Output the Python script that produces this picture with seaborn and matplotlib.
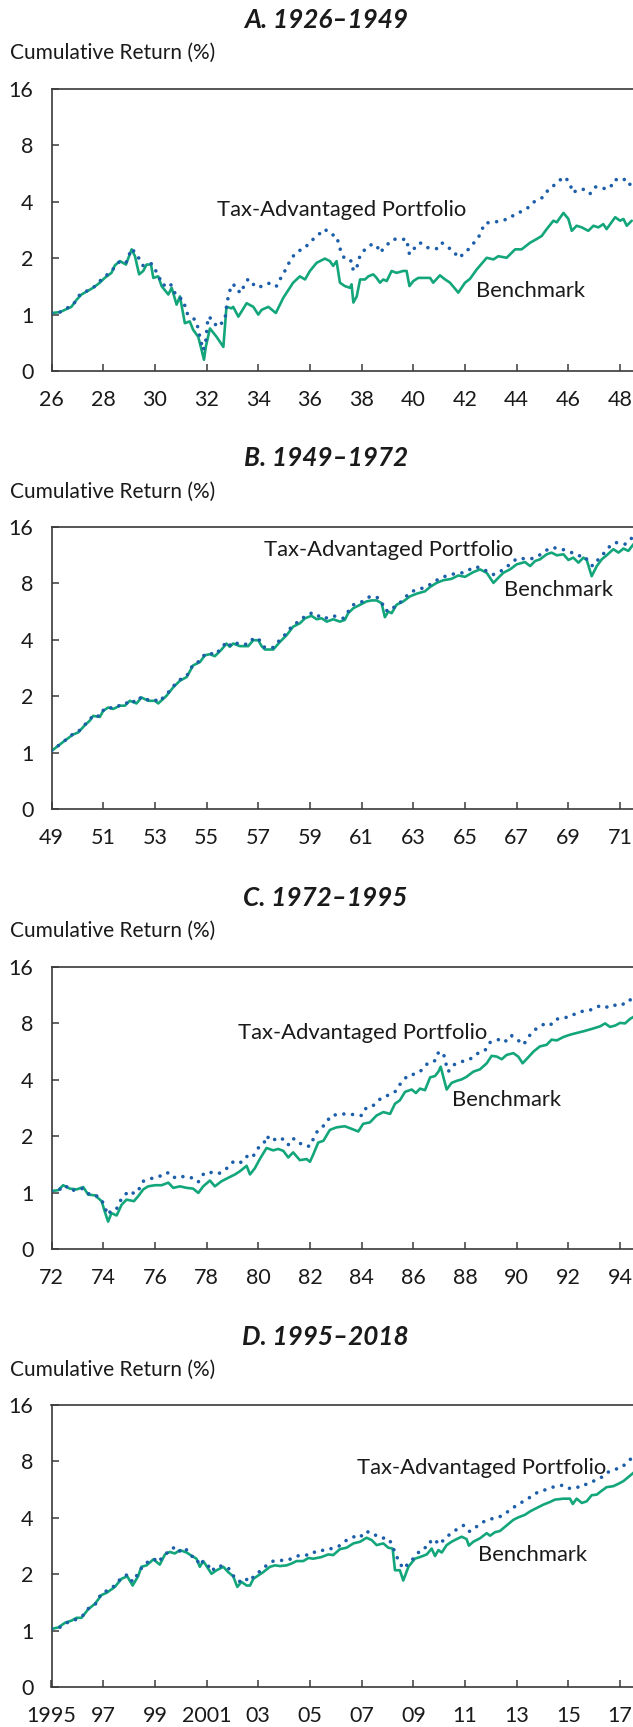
import matplotlib
matplotlib.use("Agg")
import matplotlib.pyplot as plt
from matplotlib.ticker import NullLocator
import seaborn as sns

# ---- data: growth of $1, years as decimal years ----
titles = ["A. 1926–1949", "B. 1949–1972", "C. 1972–1995", "D. 1995–2018"]
starts = [1926, 1949, 1972, 1995]

a_years_bm = [1926.00, 1926.32, 1926.77, 1926.97, 1927.16, 1927.61, 1927.87, 1928.06, 1928.32, 1928.45,
              1928.65, 1928.88, 1929.10, 1929.23, 1929.39, 1929.55, 1929.68, 1929.85, 1929.94, 1930.13,
              1930.26, 1930.52, 1930.65, 1930.84, 1930.97, 1931.16, 1931.35, 1931.48, 1931.68, 1931.81,
              1931.90, 1931.97, 1932.13, 1932.39, 1932.52, 1932.65, 1932.77, 1932.97, 1933.03, 1933.23,
              1933.55, 1933.81, 1934.00, 1934.13, 1934.39, 1934.68, 1934.97, 1935.35, 1935.61, 1935.81,
              1936.00, 1936.26, 1936.58, 1936.77, 1936.90, 1937.03, 1937.16, 1937.35, 1937.55, 1937.61,
              1937.68, 1937.81, 1937.94, 1938.13, 1938.26, 1938.45, 1938.58, 1938.71, 1938.84, 1938.97,
              1939.16, 1939.35, 1939.61, 1939.74, 1939.85, 1940.00, 1940.19, 1940.65, 1940.77, 1941.03,
              1941.23, 1941.42, 1941.74, 1942.00, 1942.19, 1942.45, 1942.84, 1943.10, 1943.29, 1943.61,
              1943.94, 1944.19, 1944.52, 1944.77, 1944.97, 1945.16, 1945.42, 1945.55, 1945.81, 1946.00,
              1946.13, 1946.32, 1946.52, 1946.77, 1946.97, 1947.16, 1947.35, 1947.48, 1947.81, 1948.00,
              1948.13, 1948.26, 1948.45]
a_bm = [1.02, 1.03, 1.10, 1.20, 1.28, 1.39, 1.48, 1.57, 1.67, 1.83,
        1.93, 1.85, 2.23, 2.05, 1.64, 1.71, 1.85, 1.85, 1.57, 1.60,
        1.42, 1.28, 1.39, 1.13, 1.25, 0.90, 0.92, 0.83, 0.76, 0.645,
        0.574, 0.672, 0.844, 0.76, 0.715, 0.672, 1.10, 1.08, 1.10, 0.975,
        1.15, 1.10, 1.00, 1.06, 1.10, 1.02, 1.23, 1.48, 1.60, 1.54,
        1.71, 1.89, 1.99, 1.93, 1.82, 1.93, 1.48, 1.42, 1.39, 1.45,
        1.16, 1.25, 1.54, 1.54, 1.60, 1.64, 1.57, 1.48, 1.54, 1.51,
        1.71, 1.67, 1.71, 1.71, 1.42, 1.51, 1.57, 1.57, 1.48, 1.62,
        1.54, 1.48, 1.31, 1.48, 1.55, 1.74, 2.01, 1.97, 2.05, 2.01,
        2.23, 2.23, 2.42, 2.53, 2.63, 2.86, 3.17, 3.11, 3.49, 3.24,
        2.80, 2.98, 2.92, 2.80, 2.98, 2.92, 3.04, 2.86, 3.31, 3.17,
        3.24, 2.98, 3.17]
a_years_tap = [1926.00, 1926.32, 1926.84, 1927.10, 1927.61, 1927.87, 1928.32, 1928.65, 1928.88, 1929.10,
               1929.29, 1929.55, 1929.87, 1930.06, 1930.32, 1930.58, 1930.84, 1931.10, 1931.23, 1931.42,
               1931.61, 1931.74, 1931.87, 1931.97, 1932.06, 1932.26, 1932.39, 1932.58, 1932.71, 1932.77,
               1932.84, 1932.97, 1933.16, 1933.29, 1933.61, 1933.81, 1934.00, 1934.26, 1934.52, 1934.71,
               1934.84, 1935.03, 1935.29, 1935.55, 1935.74, 1936.13, 1936.58, 1936.77, 1937.03, 1937.10,
               1937.19, 1937.35, 1937.61, 1937.68, 1937.81, 1937.94, 1938.13, 1938.39, 1938.58, 1938.71,
               1938.97, 1939.23, 1939.48, 1939.74, 1939.85, 1940.00, 1940.26, 1940.52, 1940.90, 1941.10,
               1941.35, 1941.55, 1941.74, 1941.94, 1942.13, 1942.52, 1942.77, 1943.10, 1943.42, 1943.74,
               1943.94, 1944.19, 1944.39, 1944.65, 1945.03, 1945.23, 1945.48, 1945.74, 1945.87, 1946.06,
               1946.17, 1946.39, 1946.65, 1946.84, 1947.03, 1947.23, 1947.48, 1947.68, 1947.81, 1948.00,
               1948.19, 1948.32, 1948.49]
a_tap = [1.02, 1.03, 1.13, 1.28, 1.39, 1.51, 1.71, 1.93, 1.89, 2.25,
         2.10, 1.82, 1.87, 1.69, 1.43, 1.48, 1.25, 1.20, 1.02, 0.975,
         0.92, 0.76, 0.645, 0.73, 0.975, 0.936, 0.86, 0.90, 0.936, 1.10,
         1.25, 1.45, 1.42, 1.30, 1.55, 1.45, 1.39, 1.45, 1.48, 1.42,
         1.54, 1.71, 2.01, 2.19, 2.23, 2.53, 2.86, 2.69, 2.63, 2.42,
         2.19, 1.97, 1.93, 1.71, 1.78, 2.07, 2.23, 2.37, 2.35, 2.14,
         2.35, 2.53, 2.51, 2.53, 2.10, 2.23, 2.42, 2.28, 2.25, 2.42,
         2.28, 2.19, 2.01, 2.10, 2.23, 2.58, 3.08, 3.11, 3.17, 3.27,
         3.45, 3.55, 3.67, 3.98, 4.24, 4.66, 4.94, 5.32, 5.43, 5.00,
         4.47, 4.66, 4.66, 4.42, 4.80, 4.80, 4.66, 4.90, 5.28, 5.15,
         5.28, 4.94, 5.00]

b_years_bm = [1949.00, 1949.52, 1949.84, 1950.03, 1950.29, 1950.48, 1950.61, 1950.87, 1951.00, 1951.19,
              1951.39, 1951.65, 1951.84, 1952.03, 1952.29, 1952.48, 1952.74, 1953.00, 1953.13, 1953.45,
              1953.71, 1953.97, 1954.23, 1954.48, 1954.74, 1954.94, 1955.13, 1955.32, 1955.58, 1955.77,
              1955.90, 1956.03, 1956.29, 1956.61, 1956.81, 1957.00, 1957.13, 1957.26, 1957.58, 1957.84,
              1958.10, 1958.35, 1958.61, 1958.81, 1959.06, 1959.26, 1959.45, 1959.65, 1959.90, 1960.16,
              1960.35, 1960.48, 1960.68, 1960.94, 1961.19, 1961.39, 1961.58, 1961.77, 1961.90, 1962.03,
              1962.16, 1962.35, 1962.61, 1962.87, 1963.13, 1963.45, 1963.65, 1963.90, 1964.16, 1964.48,
              1964.74, 1965.00, 1965.32, 1965.58, 1965.84, 1966.10, 1966.29, 1966.48, 1966.74, 1967.00,
              1967.32, 1967.52, 1967.71, 1967.90, 1968.16, 1968.35, 1968.55, 1968.81, 1969.00, 1969.19,
              1969.39, 1969.58, 1969.71, 1969.90, 1970.10, 1970.29, 1970.48, 1970.74, 1970.94, 1971.13,
              1971.32, 1971.52]
b_bm = [1.02, 1.16, 1.25, 1.28, 1.40, 1.48, 1.57, 1.55, 1.67, 1.74,
        1.71, 1.78, 1.78, 1.89, 1.83, 1.97, 1.89, 1.89, 1.83, 2.01,
        2.23, 2.42, 2.53, 2.92, 3.04, 3.31, 3.35, 3.27, 3.55, 3.82,
        3.67, 3.82, 3.70, 3.70, 3.98, 3.98, 3.70, 3.55, 3.55, 3.90,
        4.24, 4.70, 4.90, 5.21, 5.37, 5.15, 5.21, 5.00, 5.15, 5.00,
        5.11, 5.55, 5.90, 6.15, 6.41, 6.49, 6.49, 6.28, 5.28, 5.66,
        5.55, 6.15, 6.41, 6.82, 7.05, 7.26, 7.66, 8.05, 8.32, 8.46,
        8.82, 8.67, 9.19, 9.50, 9.11, 8.05, 8.57, 9.11, 9.50, 10.11,
        10.40, 9.90, 10.53, 10.75, 11.44, 11.68, 11.30, 11.44, 10.67, 10.98,
        10.32, 10.98, 10.67, 8.74, 9.90, 10.75, 11.30, 12.18, 11.68, 12.28,
        11.93, 12.96]
b_years_tap = [1949.00, 1949.52, 1949.84, 1950.03, 1950.29, 1950.48, 1950.61, 1950.87, 1951.00, 1951.19,
               1951.39, 1951.65, 1951.84, 1952.03, 1952.29, 1952.48, 1952.74, 1953.00, 1953.13, 1953.45,
               1953.71, 1953.97, 1954.23, 1954.48, 1954.74, 1954.94, 1955.13, 1955.32, 1955.58, 1955.77,
               1955.90, 1956.03, 1956.29, 1956.61, 1956.81, 1957.00, 1957.13, 1957.26, 1957.58, 1957.84,
               1958.10, 1958.35, 1958.61, 1958.81, 1959.06, 1959.26, 1959.45, 1959.65, 1959.90, 1960.10,
               1960.29, 1960.48, 1960.68, 1960.94, 1961.13, 1961.32, 1961.58, 1961.77, 1961.90, 1962.16,
               1962.29, 1962.55, 1962.87, 1963.13, 1963.39, 1963.65, 1963.90, 1964.16, 1964.48, 1964.74,
               1964.94, 1965.19, 1965.39, 1965.58, 1965.84, 1966.10, 1966.29, 1966.48, 1966.74, 1967.00,
               1967.32, 1967.58, 1967.84, 1968.10, 1968.35, 1968.68, 1968.94, 1969.13, 1969.39, 1969.58,
               1969.77, 1969.94, 1970.16, 1970.29, 1970.55, 1970.81, 1971.00, 1971.19, 1971.39, 1971.52]
b_tap = [1.02, 1.16, 1.26, 1.29, 1.41, 1.49, 1.59, 1.56, 1.68, 1.75,
         1.72, 1.79, 1.80, 1.91, 1.85, 1.99, 1.91, 1.92, 1.86, 2.04,
         2.26, 2.45, 2.56, 2.96, 3.08, 3.36, 3.40, 3.32, 3.61, 3.90,
         3.74, 3.90, 3.78, 3.79, 4.07, 4.08, 3.79, 3.63, 3.64, 4.00,
         4.35, 4.82, 5.03, 5.36, 5.55, 5.32, 5.42, 5.22, 5.36, 5.32,
         5.21, 5.66, 6.15, 6.33, 6.49, 6.82, 6.77, 6.41, 5.73, 5.73,
         6.08, 6.41, 7.17, 7.41, 7.57, 7.89, 8.32, 8.67, 8.93, 9.11,
         9.11, 9.50, 9.82, 9.70, 9.31, 8.93, 9.11, 9.50, 10.11, 10.85,
         10.85, 10.85, 11.21, 11.93, 12.43, 12.28, 11.93, 11.68, 11.21, 11.30,
         10.53, 9.90, 10.75, 11.21, 12.43, 13.23, 13.12, 12.96, 13.50, 14.67]

c_years_bm = [1972.00, 1972.26, 1972.45, 1972.71, 1972.97, 1973.23, 1973.42, 1973.68, 1973.94, 1974.06,
              1974.19, 1974.32, 1974.52, 1974.71, 1974.90, 1975.19, 1975.35, 1975.55, 1975.74, 1976.00,
              1976.26, 1976.52, 1976.71, 1976.97, 1977.23, 1977.48, 1977.68, 1977.87, 1978.13, 1978.32,
              1978.58, 1978.84, 1979.10, 1979.29, 1979.55, 1979.68, 1979.87, 1980.06, 1980.32, 1980.58,
              1980.77, 1980.97, 1981.16, 1981.35, 1981.61, 1981.87, 1982.00, 1982.13, 1982.32, 1982.52,
              1982.77, 1983.03, 1983.35, 1983.61, 1983.87, 1984.06, 1984.32, 1984.58, 1984.84, 1985.10,
              1985.29, 1985.48, 1985.68, 1985.94, 1986.10, 1986.26, 1986.45, 1986.65, 1986.84, 1986.97,
              1987.06, 1987.16, 1987.29, 1987.48, 1987.68, 1987.87, 1988.06, 1988.32, 1988.58, 1988.84,
              1989.03, 1989.23, 1989.42, 1989.61, 1989.87, 1990.06, 1990.23, 1990.45, 1990.65, 1990.90,
              1991.16, 1991.35, 1991.55, 1991.81, 1992.06, 1992.32, 1992.58, 1992.90, 1993.23, 1993.42,
              1993.61, 1993.81, 1994.00, 1994.19, 1994.39, 1994.52]
c_bm = [1.02, 1.03, 1.095, 1.05, 1.04, 1.07, 0.975, 0.967, 0.90, 0.793,
        0.70, 0.777, 0.755, 0.86, 0.917, 0.90, 0.955, 1.04, 1.08, 1.095,
        1.095, 1.13, 1.06, 1.08, 1.06, 1.05, 0.996, 1.08, 1.16, 1.08,
        1.15, 1.20, 1.25, 1.30, 1.39, 1.25, 1.35, 1.51, 1.73, 1.68,
        1.71, 1.67, 1.54, 1.64, 1.49, 1.51, 1.46, 1.60, 1.85, 1.89,
        2.16, 2.23, 2.26, 2.19, 2.12, 2.33, 2.37, 2.58, 2.69, 2.63,
        2.98, 3.11, 3.45, 3.55, 3.40, 3.59, 3.52, 4.12, 4.19, 4.42,
        4.70, 4.15, 3.55, 3.85, 3.95, 4.02, 4.15, 4.42, 4.55, 4.90,
        5.37, 5.32, 5.15, 5.43, 5.55, 5.32, 4.90, 5.28, 5.66, 6.03,
        6.15, 6.55, 6.49, 6.77, 6.96, 7.11, 7.26, 7.47, 7.72, 8.00,
        7.66, 7.79, 8.05, 8.00, 8.46, 8.67]
c_years_tap = [1972.00, 1972.32, 1972.52, 1972.77, 1973.03, 1973.23, 1973.48, 1973.68, 1973.94, 1974.06,
               1974.19, 1974.32, 1974.52, 1974.65, 1974.84, 1974.97, 1975.23, 1975.42, 1975.55, 1975.74,
               1976.00, 1976.26, 1976.48, 1976.71, 1976.97, 1977.23, 1977.48, 1977.68, 1977.87, 1978.00,
               1978.19, 1978.45, 1978.65, 1978.84, 1979.03, 1979.23, 1979.48, 1979.61, 1979.81, 1980.00,
               1980.22, 1980.32, 1980.52, 1980.77, 1981.03, 1981.16, 1981.35, 1981.55, 1981.81, 1981.97,
               1982.13, 1982.26, 1982.39, 1982.65, 1982.77, 1983.03, 1983.35, 1983.68, 1984.00, 1984.13,
               1984.39, 1984.65, 1984.84, 1985.03, 1985.29, 1985.55, 1985.81, 1986.06, 1986.26, 1986.58,
               1986.84, 1986.97, 1987.16, 1987.23, 1987.35, 1987.55, 1987.87, 1988.19, 1988.45, 1988.77,
               1988.97, 1989.23, 1989.42, 1989.61, 1989.81, 1990.00, 1990.26, 1990.52, 1990.71, 1991.03,
               1991.29, 1991.48, 1991.81, 1992.06, 1992.32, 1992.58, 1992.84, 1993.10, 1993.35, 1993.55,
               1993.74, 1993.94, 1994.19, 1994.45]
c_tap = [1.02, 1.04, 1.095, 1.02, 1.05, 1.05, 0.975, 0.975, 0.917, 0.834,
         0.76, 0.81, 0.82, 0.90, 0.967, 1.02, 0.985, 1.06, 1.15, 1.17,
         1.21, 1.23, 1.28, 1.20, 1.23, 1.20, 1.20, 1.14, 1.25, 1.29,
         1.28, 1.26, 1.30, 1.37, 1.46, 1.43, 1.49, 1.60, 1.57, 1.73,
         1.83, 2.01, 1.88, 1.97, 1.91, 1.80, 1.95, 1.83, 1.82, 1.76,
         1.93, 2.10, 2.19, 2.35, 2.55, 2.61, 2.63, 2.61, 2.58, 2.80,
         2.86, 3.11, 3.24, 3.31, 3.45, 3.90, 4.24, 4.29, 4.42, 4.94,
         5.06, 5.59, 5.59, 5.06, 4.42, 4.80, 5.00, 5.15, 5.50, 5.73,
         6.33, 6.49, 6.68, 6.41, 6.88, 6.60, 6.15, 6.96, 7.41, 7.89,
         7.79, 8.39, 8.57, 8.67, 9.11, 9.31, 9.42, 9.82, 9.98, 9.70,
         9.90, 10.23, 10.11, 10.85]

d_years_bm = [1995.00, 1995.26, 1995.52, 1995.77, 1995.97, 1996.16, 1996.42, 1996.68, 1996.94, 1997.13,
              1997.45, 1997.71, 1997.93, 1998.14, 1998.35, 1998.48, 1998.68, 1998.94, 1999.19, 1999.39,
              1999.58, 1999.77, 1999.97, 2000.23, 2000.42, 2000.61, 2000.74, 2000.87, 2001.00, 2001.19,
              2001.39, 2001.65, 2001.84, 2002.03, 2002.19, 2002.35, 2002.55, 2002.68, 2002.81, 2003.00,
              2003.19, 2003.45, 2003.65, 2003.84, 2004.10, 2004.29, 2004.48, 2004.74, 2004.94, 2005.13,
              2005.45, 2005.71, 2005.90, 2006.16, 2006.42, 2006.68, 2006.94, 2007.19, 2007.39, 2007.58,
              2007.84, 2008.03, 2008.20, 2008.29, 2008.48, 2008.61, 2008.81, 2009.06, 2009.26, 2009.52,
              2009.71, 2009.84, 2009.97, 2010.10, 2010.29, 2010.48, 2010.68, 2010.87, 2011.06, 2011.15,
              2011.32, 2011.58, 2011.84, 2011.97, 2012.16, 2012.35, 2012.61, 2012.87, 2013.06, 2013.32,
              2013.52, 2013.77, 2014.03, 2014.29, 2014.48, 2014.81, 2015.06, 2015.17, 2015.32, 2015.52,
              2015.71, 2015.90, 2016.10, 2016.23, 2016.48, 2016.74, 2016.94, 2017.13, 2017.32, 2017.52]
d_bm = [1.02, 1.04, 1.10, 1.13, 1.17, 1.17, 1.30, 1.39, 1.55, 1.59,
        1.71, 1.89, 1.95, 1.74, 1.95, 2.19, 2.23, 2.40, 2.25, 2.55,
        2.63, 2.58, 2.69, 2.61, 2.51, 2.42, 2.19, 2.35, 2.21, 2.01,
        2.10, 2.19, 2.05, 1.95, 1.71, 1.82, 1.74, 1.74, 1.89, 1.97,
        2.05, 2.19, 2.23, 2.21, 2.23, 2.28, 2.35, 2.35, 2.44, 2.42,
        2.47, 2.55, 2.53, 2.72, 2.77, 2.92, 2.98, 3.13, 3.04, 2.86,
        2.92, 2.77, 2.74, 2.10, 2.10, 1.85, 2.19, 2.42, 2.47, 2.55,
        2.74, 2.50, 2.69, 2.61, 2.86, 2.98, 3.08, 3.17, 3.08, 2.84,
        2.98, 3.11, 3.31, 3.21, 3.35, 3.40, 3.64, 3.90, 4.02, 4.15,
        4.33, 4.51, 4.70, 4.86, 5.00, 5.06, 5.06, 4.74, 5.06, 4.80,
        4.90, 5.28, 5.32, 5.50, 5.83, 5.90, 6.08, 6.28, 6.60, 6.96]
d_years_tap = [1995.00, 1995.32, 1995.58, 1995.84, 1996.03, 1996.23, 1996.42, 1996.68, 1996.94, 1997.19,
               1997.45, 1997.67, 1997.93, 1998.14, 1998.32, 1998.55, 1998.74, 1998.96, 1999.13, 1999.35,
               1999.52, 1999.71, 1999.90, 2000.10, 2000.29, 2000.46, 2000.61, 2000.72, 2000.87, 2001.06,
               2001.19, 2001.39, 2001.65, 2001.84, 2002.01, 2002.16, 2002.29, 2002.45, 2002.68, 2002.87,
               2003.13, 2003.32, 2003.58, 2003.84, 2004.10, 2004.35, 2004.61, 2004.87, 2005.06, 2005.32,
               2005.58, 2005.84, 2006.10, 2006.42, 2006.61, 2006.87, 2007.06, 2007.26, 2007.52, 2007.77,
               2007.97, 2008.10, 2008.23, 2008.42, 2008.61, 2008.81, 2009.06, 2009.32, 2009.58, 2009.71,
               2009.90, 2010.03, 2010.23, 2010.48, 2010.74, 2010.94, 2011.06, 2011.19, 2011.45, 2011.77,
               2012.03, 2012.29, 2012.55, 2012.74, 2013.00, 2013.26, 2013.52, 2013.77, 2014.03, 2014.29,
               2014.55, 2014.81, 2015.06, 2015.26, 2015.52, 2015.71, 2015.97, 2016.23, 2016.48, 2016.81,
               2017.06, 2017.32, 2017.52]
d_tap = [1.02, 1.04, 1.10, 1.13, 1.16, 1.21, 1.31, 1.37, 1.59, 1.64,
         1.74, 1.89, 1.99, 1.82, 1.99, 2.23, 2.33, 2.42, 2.31, 2.53,
         2.63, 2.77, 2.61, 2.77, 2.66, 2.47, 2.44, 2.23, 2.35, 2.23,
         2.07, 2.21, 2.21, 2.16, 1.99, 1.85, 1.83, 1.91, 1.83, 1.99,
         2.10, 2.23, 2.35, 2.37, 2.37, 2.44, 2.53, 2.53, 2.63, 2.61,
         2.72, 2.74, 2.81, 3.04, 3.11, 3.27, 3.17, 3.38, 3.24, 3.11,
         3.13, 3.01, 2.74, 2.37, 2.14, 2.28, 2.47, 2.74, 2.80, 3.08,
         2.98, 2.88, 3.13, 3.31, 3.52, 3.64, 3.45, 3.38, 3.59, 3.85,
         3.95, 4.02, 4.19, 4.42, 4.66, 4.90, 5.15, 5.43, 5.59, 5.78,
         5.90, 5.98, 5.73, 5.83, 5.83, 6.08, 6.28, 6.49, 6.96, 7.26,
         7.41, 8.05, 8.46]

a_tick_years = [1926, 1928, 1930, 1932, 1934, 1936, 1938, 1940, 1942, 1944, 1946, 1948]
a_tick_labels = ["26", "28", "30", "32", "34", "36", "38", "40", "42", "44", "46", "48"]
b_tick_years = [1949, 1951, 1953, 1955, 1957, 1959, 1961, 1963, 1965, 1967, 1969, 1971]
b_tick_labels = ["49", "51", "53", "55", "57", "59", "61", "63", "65", "67", "69", "71"]
c_tick_years = [1972, 1974, 1976, 1978, 1980, 1982, 1984, 1986, 1988, 1990, 1992, 1994]
c_tick_labels = ["72", "74", "76", "78", "80", "82", "84", "86", "88", "90", "92", "94"]
d_tick_years = [1995, 1997, 1999, 2001, 2003, 2005, 2007, 2009, 2011, 2013, 2015, 2017]
d_tick_labels = ["1995", "97", "99", "2001", "03", "05", "07", "09", "11", "13", "15", "17"]

y_ticks = [0.5, 1, 2, 4, 8, 16]
y_tick_labels = ["0", "1", "2", "4", "8", "16"]

# ---- styling ----
BM_COLOR = "#14a67b"
TAP_COLOR = "#1c5ea9"
INK = "#1a1a1a"
SPINE = "#3a3a3a"

sns.set_theme(style="white")
plt.rcParams["font.family"] = ["Lato", "DejaVu Sans"]

W, H = 633, 1727
fig = plt.figure(figsize=(W / 100, H / 100), dpi=100)

# pixel layout of each panel: title y, ylabel y, axes top, axes bottom
layout = [(20, 53, 89, 371), (458, 492, 527, 809), (898, 931, 967, 1249), (1337, 1370, 1405, 1687)]
# annotation anchors in axes fraction: (tap_x, tap_y, bm_x, bm_y)
label_pos = [(0.285, 0.571, 0.730, 0.284), (0.366, 0.918, 0.779, 0.777),
             (0.321, 0.765, 0.689, 0.530), (0.525, 0.778, 0.733, 0.468)]

series = [
    (a_years_bm, a_bm, a_years_tap, a_tap, a_tick_years, a_tick_labels),
    (b_years_bm, b_bm, b_years_tap, b_tap, b_tick_years, b_tick_labels),
    (c_years_bm, c_bm, c_years_tap, c_tap, c_tick_years, c_tick_labels),
    (d_years_bm, d_bm, d_years_tap, d_tap, d_tick_years, d_tick_labels),
]

AX_LEFT = 51.5
for i, (yb, vb, yt, vt, tx, tl) in enumerate(series):
    t_y, l_y, top, bot = layout[i]
    ax = fig.add_axes([AX_LEFT / W, 1 - bot / H, 1 - AX_LEFT / W, (bot - top) / H])

    sns.lineplot(x=yb, y=vb, ax=ax, color=BM_COLOR, linewidth=1.9, zorder=2)
    sns.lineplot(x=yt, y=vt, ax=ax, color=TAP_COLOR, linewidth=2.6,
                 linestyle=(0, (0.01, 2.4)), dash_capstyle="round", zorder=3)

    ax.set_yscale("log", base=2)
    ax.set_ylim(0.5, 16)
    ax.set_yticks(y_ticks, y_tick_labels)
    ax.yaxis.set_minor_locator(NullLocator())
    ax.set_xlim(starts[i], starts[i] + 22.5)
    ax.set_xticks(tx, tl)
    ax.set_xlabel("")
    ax.set_ylabel("")

    for side in ["left", "bottom", "top"]:
        ax.spines[side].set_color(SPINE)
        ax.spines[side].set_linewidth(1.2)
    ax.spines["right"].set_visible(False)
    ax.tick_params(axis="both", direction="in", length=4.7, width=1.1, color=SPINE,
                   labelsize=15.5, labelcolor=INK)
    ax.tick_params(axis="y", pad=13, left=True)
    ax.tick_params(axis="x", pad=14, bottom=True)

    tx_, ty_, bx_, by_ = label_pos[i]
    ax.text(tx_, ty_, "Tax-Advantaged Portfolio", transform=ax.transAxes,
            ha="left", va="center", fontsize=15.8, color=INK)
    ax.text(bx_, by_, "Benchmark", transform=ax.transAxes,
            ha="left", va="center", fontsize=15.8, color=INK)

    fig.text(325.6 / W, 1 - t_y / H, titles[i], ha="center", va="center",
             fontsize=18.8, fontweight="bold", fontstyle="italic", color=INK)
    fig.text(10 / W, 1 - l_y / H, "Cumulative Return (%)", ha="left", va="center",
             fontsize=15, color=INK)

fig.savefig("out.png", dpi=100)
